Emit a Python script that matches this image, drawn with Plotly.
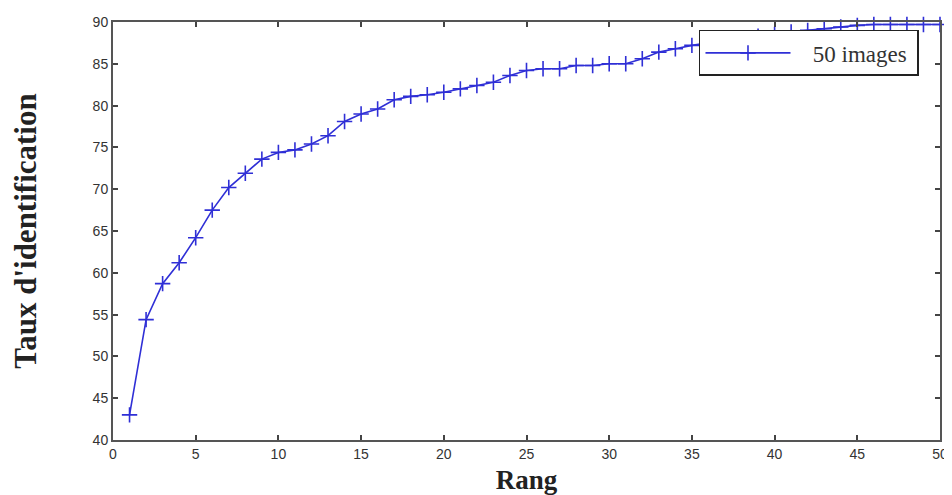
import plotly.graph_objects as go

rang = list(range(1, 51))
taux = [43.0, 54.4, 58.7, 61.2, 64.2, 67.5, 70.2, 71.9, 73.6, 74.4,
        74.7, 75.4, 76.4, 78.1, 79.0, 79.6, 80.7, 81.1, 81.3, 81.6,
        82.0, 82.4, 82.8, 83.6, 84.2, 84.4, 84.4, 84.8, 84.8, 85.0,
        85.0, 85.6, 86.4, 86.8, 87.2, 87.5, 87.8, 88.0, 88.3, 88.5,
        88.8, 89.0, 89.2, 89.4, 89.6, 89.7, 89.7, 89.7, 89.7, 89.7]
series_name = "50 images"
x_ticks = [0, 5, 10, 15, 20, 25, 30, 35, 40, 45, 50]
y_ticks = [40, 45, 50, 55, 60, 65, 70, 75, 80, 85, 90]

blue = "#2f2fd6"
fig = go.Figure()
fig.add_trace(go.Scatter(
    x=rang, y=taux, mode="lines+markers",
    name="\u00a0\u00a0\u00a0" + series_name + "\u00a0",
    line=dict(color=blue, width=1.6),
    marker=dict(symbol="cross-thin", size=11, line=dict(color=blue, width=1.6)),
    cliponaxis=False,
))

axis_common = dict(
    showline=True, linecolor="#555555", linewidth=2, mirror="ticks",
    ticks="inside", ticklen=5, tickwidth=1.5, tickcolor="#444444",
    showgrid=False, zeroline=False, automargin=False,
    tickfont=dict(family="Liberation Sans, Arial, sans-serif", size=14, color="#333333"),
)

fig.update_layout(
    width=944, height=487,
    margin=dict(l=105, r=12, t=14, b=55),
    paper_bgcolor="white", plot_bgcolor="white",
    showlegend=True,
    legend=dict(
        x=0.9746, y=0.981, xanchor="right", yanchor="top",
        bgcolor="white", bordercolor="#222222", borderwidth=1.5,
        font=dict(family="Liberation Serif, Times New Roman, serif", size=23, color="#333333"),
        itemwidth=85, tracegroupgap=0,
    ),
    xaxis=dict(
        range=[0, 50], tickvals=x_ticks, **axis_common,
        title=dict(text="<b>Rang</b>", standoff=11,
                   font=dict(family="Liberation Serif, Times New Roman, serif", size=27, color="#222222")),
    ),
    yaxis=dict(
        range=[40, 90], tickvals=y_ticks, **axis_common,
        title=dict(text="<b>Taux d'identification</b>", standoff=48,
                   font=dict(family="Liberation Serif, Times New Roman, serif", size=31, color="#222222")),
    ),
)

fig.write_html("out.html")
